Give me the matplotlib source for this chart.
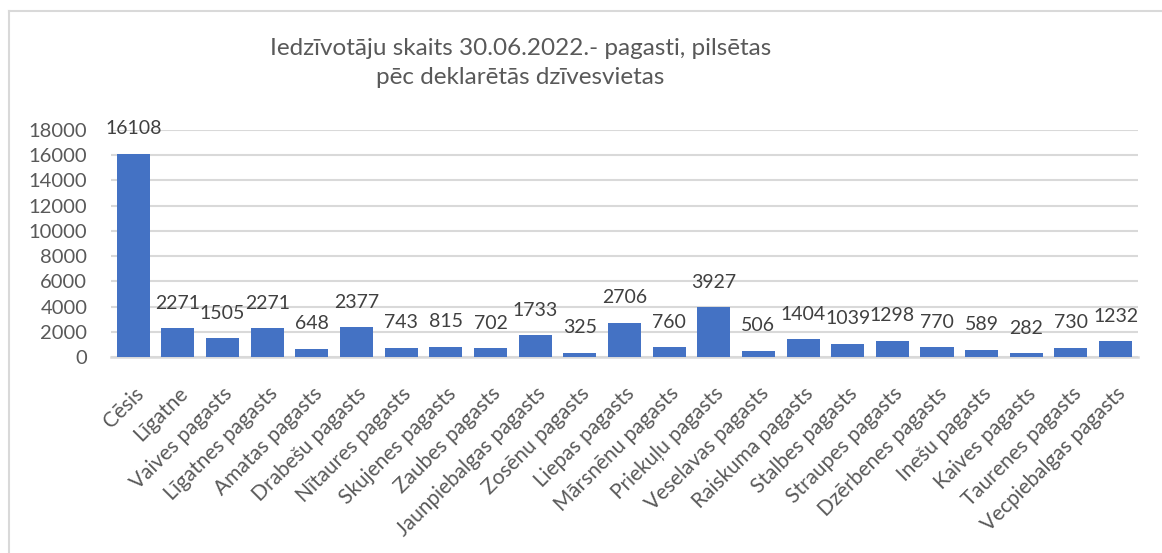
import matplotlib.pyplot as plt
from matplotlib.lines import Line2D

plt.rcParams['font.family'] = ['Lato', 'DejaVu Sans']

title = 'Iedzīvotāju skaits 30.06.2022.- pagasti, pilsētas\npēc deklarētās dzīvesvietas'

places = ['Cēsis', 'Līgatne', 'Vaives pagasts', 'Līgatnes pagasts', 'Amatas pagasts',
          'Drabešu pagasts', 'Nītaures pagasts', 'Skujenes pagasts', 'Zaubes pagasts',
          'Jaunpiebalgas pagasts', 'Zosēnu pagasts', 'Liepas pagasts', 'Mārsnēnu pagasts',
          'Priekuļu pagasts', 'Veselavas pagasts', 'Raiskuma pagasts', 'Stalbes pagasts',
          'Straupes pagasts', 'Dzērbenes pagasts', 'Inešu pagasts', 'Kaives pagasts',
          'Taurenes pagasts', 'Vecpiebalgas pagasts']
residents = [16108, 2271, 1505, 2271, 648, 2377, 743, 815, 702, 1733, 325, 2706, 760,
             3927, 506, 1404, 1039, 1298, 770, 589, 282, 730, 1232]
y_ticks = list(range(0, 18001, 2000))

text_color = '#595959'
grid_color = '#d9d9d9'

fig = plt.figure(figsize=(11.62, 5.53), dpi=100)
ax = fig.add_axes([0.0955, 0.3544, 0.8838, 0.4105])

x = range(len(places))
ax.bar(x, residents, width=0.74, color='#4472C4', zorder=3)
for xi, v in zip(x, residents):
    ax.annotate(str(v), (xi, v), xytext=(0, 18), textcoords='offset points',
                ha='center', va='center', fontsize=14, color='#404040')

ax.set_xlim(-0.5, len(places) - 0.5)
ax.set_ylim(0, 18000)
ax.set_yticks(y_ticks)
ax.set_xticks(list(x))
ax.set_xticklabels(places, rotation=45, ha='right', va='top', rotation_mode='anchor')
ax.tick_params(axis='y', length=0, pad=17, labelsize=14.5, labelcolor=text_color)
ax.tick_params(axis='x', length=0, pad=19, labelsize=15, labelcolor=text_color)
ax.grid(axis='y', color=grid_color, linewidth=1.5, zorder=0)
for s in ['top', 'right', 'left']:
    ax.spines[s].set_visible(False)
ax.spines['bottom'].set_color(grid_color)
ax.spines['bottom'].set_linewidth(1.8)

fig.text(0.448, 0.886, title, ha='center', va='center', fontsize=17.5,
         color=text_color, linespacing=1.46)

# chart frame (runs off the right and bottom edge)
fig.add_artist(Line2D([0.0077, 1.0], [0.980, 0.980], color=grid_color, linewidth=1.5))
fig.add_artist(Line2D([0.0077, 0.0077], [0.0, 0.980], color=grid_color, linewidth=1.5))

fig.savefig('out.png', dpi=100)
